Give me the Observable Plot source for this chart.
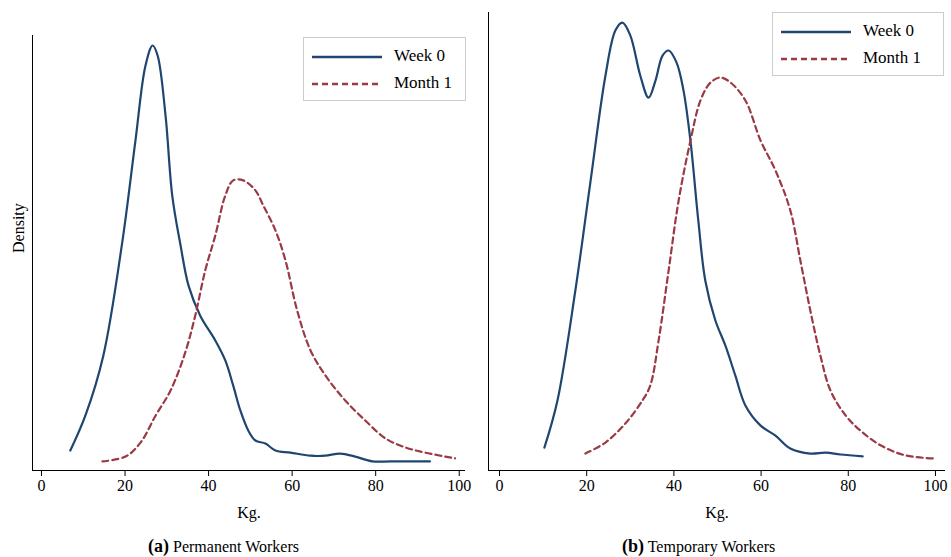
<!DOCTYPE html>
<html><head><meta charset="utf-8">
<script src="https://cdn.jsdelivr.net/npm/d3@7"></script>
<script src="https://cdn.jsdelivr.net/npm/@observablehq/plot@0.6"></script>
<style>
body{margin:0;background:#fff;font-family:"Liberation Serif",serif;}
#wrap{position:relative;width:951px;height:557px;}
.panel{position:absolute;top:0;}
.legend{position:absolute;border:1px solid #ccc;background:#fff;font-size:17px;padding:4px 8px;line-height:27px;}
.legend svg{vertical-align:middle;margin-right:12px;}
.cap{position:absolute;top:536px;font-size:16px;}
</style></head><body>
<div id="wrap">
<div id="left" class="panel" style="left:0"></div>
<div id="right" class="panel" style="left:475px"></div>
<div class="legend" style="left:303px;top:37px;width:145px">
<div><svg width="70" height="4"><line x1="0" y1="2" x2="70" y2="2" stroke="#1f4670" stroke-width="2.5"/></svg>Week 0</div>
<div><svg width="70" height="4"><line x1="0" y1="2" x2="70" y2="2" stroke="#9a3a44" stroke-width="2.5" stroke-dasharray="6,4"/></svg>Month 1</div></div>
<div class="legend" style="left:772px;top:12px;width:154px">
<div><svg width="70" height="4"><line x1="0" y1="2" x2="70" y2="2" stroke="#1f4670" stroke-width="2.5"/></svg>Week 0</div>
<div><svg width="70" height="4"><line x1="0" y1="2" x2="70" y2="2" stroke="#9a3a44" stroke-width="2.5" stroke-dasharray="6,4"/></svg>Month 1</div></div>
<div class="cap" style="left:148px"><b style="font-size:18px">(a)</b> Permanent Workers</div>
<div class="cap" style="left:622px"><b style="font-size:18px">(b)</b> Temporary Workers</div>
</div>
<script>
const xTicks = [0, 20, 40, 60, 80, 100];

const permWeekX = [6.9,10.5,14.8,19.4,22.5,24.9,26.6,27.8,29.7,31.3,33.3,35.2,38.0,41.6,44.0,45.9,47.6,49.5,51.2,53.6,56,59.6,64.4,67.9,71.5,75.1,79.2,83.5,88.3,93];
const permWeekY = [0.046,0.126,0.264,0.529,0.759,0.931,0.977,0.954,0.816,0.632,0.517,0.425,0.356,0.299,0.253,0.195,0.138,0.092,0.069,0.062,0.046,0.041,0.034,0.034,0.039,0.032,0.021,0.021,0.021,0.021];
const permMonthX = [14.6,20.1,23.7,27.3,30.9,34.4,36.8,39.2,41.6,44,45.9,48.3,51.2,53.1,56,58.4,61.2,64.4,68,72.7,77.5,82.3,87.1,91.9,99];
const permMonthY = [0.021,0.032,0.064,0.126,0.184,0.271,0.356,0.46,0.54,0.632,0.667,0.667,0.644,0.609,0.552,0.483,0.368,0.276,0.218,0.161,0.115,0.074,0.053,0.041,0.028];

const tempWeekX = [10.3,13.3,17.4,20.9,24.3,26.6,28.2,30,32.3,34.2,35.8,37.4,38.8,40.6,42.2,43.8,45.6,47.2,49.5,51.8,54.1,56.4,59.9,63.3,66.7,71.3,74.8,78.2,83.3];
const tempWeekY = [0.05,0.153,0.393,0.633,0.862,0.961,0.978,0.95,0.862,0.814,0.852,0.906,0.917,0.891,0.83,0.72,0.546,0.415,0.328,0.273,0.207,0.142,0.098,0.076,0.048,0.037,0.039,0.035,0.031];
const tempMonthX = [19.7,24.3,28.9,32.8,34.6,36.5,38.8,41.1,43.8,46.1,48.4,50.7,53,56.4,59.9,63.3,66.7,69,71.3,73.6,75.9,79.4,82.8,87.4,93.1,100];
const tempMonthY = [0.037,0.061,0.103,0.153,0.186,0.284,0.437,0.59,0.72,0.808,0.847,0.858,0.847,0.808,0.72,0.655,0.568,0.459,0.349,0.251,0.175,0.12,0.087,0.055,0.033,0.026];

const zip = (xs, ys) => xs.map((x, i) => ({x, y: ys[i]}));

function panel(el, opts) {
  const plot = Plot.plot({
    width: opts.width, height: 530,
    marginLeft: opts.ml, marginRight: opts.mr, marginTop: opts.mt, marginBottom: 60,
    x: {domain: opts.xd, ticks: xTicks, tickSize: 6, label: "Kg.", labelAnchor: "center", labelArrow: "none", labelOffset: 47},
    y: {domain: [0, 1], axis: null},
    style: {fontFamily: "Liberation Serif, serif", fontSize: "16px", color: "#000", background: "transparent"},
    marks: [
      Plot.ruleX([opts.xd[0]], {stroke: "#000"}),
      Plot.ruleY([0], {stroke: "#000"}),
      Plot.line(zip(opts.wx, opts.wy), {x: "x", y: "y", stroke: "#1f4670", strokeWidth: 2.2, curve: "catmull-rom"}),
      Plot.line(zip(opts.mx, opts.my), {x: "x", y: "y", stroke: "#9a3a44", strokeWidth: 2.2, strokeDasharray: "6,4", curve: "catmull-rom"}),
      ...(opts.ylab ? [Plot.text(["Density"], {frameAnchor: "left", dx: -14, rotate: -90, fontSize: 16})] : [])
    ]
  });
  document.getElementById(el).append(plot);
}
panel("left", {width: 475, ml: 32, mr: 10, mt: 35, xd: [-2.15, 101.5], wx: permWeekX, wy: permWeekY, mx: permMonthX, my: permMonthY, ylab: true});
panel("right", {width: 476, ml: 13, mr: 6, mt: 12, xd: [-2.52, 102.3], wx: tempWeekX, wy: tempWeekY, mx: tempMonthX, my: tempMonthY});
</script></body></html>
